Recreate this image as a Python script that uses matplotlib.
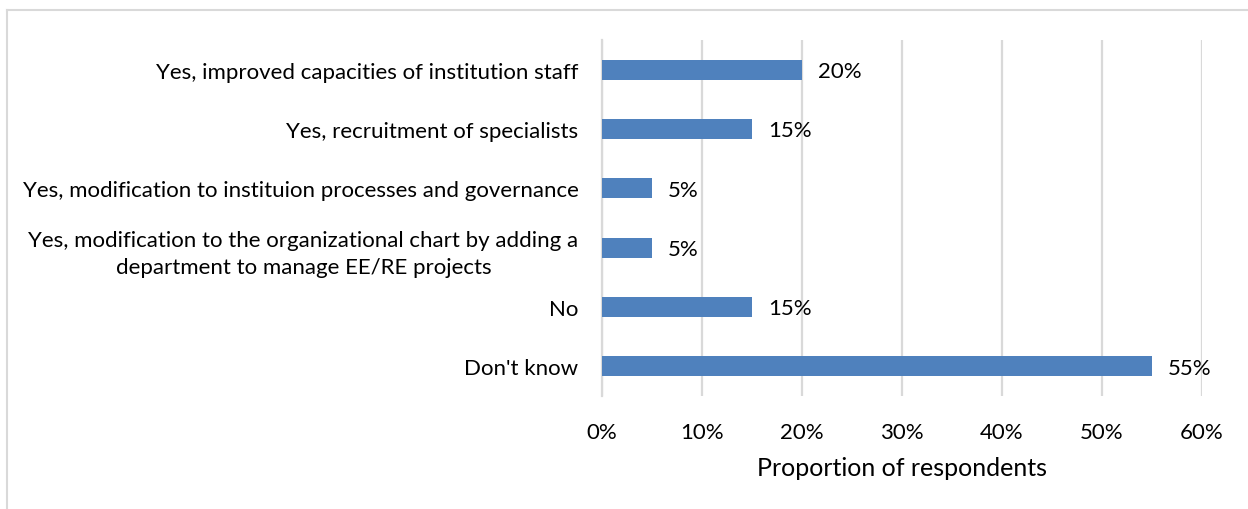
import matplotlib
matplotlib.use("Agg")
import matplotlib.pyplot as plt
from matplotlib.lines import Line2D
from matplotlib.ticker import PercentFormatter

plt.rcParams['font.family'] = ['Lato', 'DejaVu Sans']

# Data
categories = [
    "Yes, improved capacities of institution staff",
    "Yes, recruitment of specialists",
    "Yes, modification to instituion processes and governance",
    "Yes, modification to the organizational chart by adding a\ndepartment to manage EE/RE projects",
    "No",
    "Don't know",
]
shares = [20, 15, 5, 5, 15, 55]
x_ticks = [0, 10, 20, 30, 40, 50, 60]

W, H = 1248, 510
fig = plt.figure(figsize=(W / 100, H / 100), dpi=100)
ax = fig.add_axes([602 / W, 1 - 397 / H, 600 / W, 356 / H])

pos = list(range(len(categories)))
bars = ax.barh(pos, shares, height=0.34, color='#4f81bd', zorder=3)
ax.set_ylim(len(categories) - 0.5, -0.5)
ax.set_xlim(0, 60)
ax.set_xticks(x_ticks)
ax.xaxis.set_major_formatter(PercentFormatter(decimals=0))
ax.set_yticks(pos)
ax.set_yticklabels(categories, ha='right', multialignment='center', linespacing=1.45)

# value labels
for bar, v in zip(bars, shares):
    ax.annotate(f"{v}%", (bar.get_width(), bar.get_y() + bar.get_height() / 2),
                xytext=(11.5, -1), textcoords='offset points',
                ha='left', va='center', fontsize=16, color='#000000')

ax.grid(axis='x', color='#d9d9d9', linewidth=1.6, zorder=0)
for s in ['top', 'right', 'bottom']:
    ax.spines[s].set_visible(False)
ax.spines['left'].set_color('#d9d9d9')
ax.spines['left'].set_linewidth(1.6)
ax.tick_params(axis='both', length=0, labelsize=16, colors='#000000')
ax.tick_params(axis='y', pad=17)
ax.tick_params(axis='x', pad=19)
ax.set_xlabel("Proportion of respondents", fontsize=18, labelpad=10)

# outer chart border
fig.add_artist(Line2D([7 / W, 7 / W], [0, 1 - 11 / H], color='#d9d9d9', linewidth=1.5,
                      transform=fig.transFigure))
fig.add_artist(Line2D([7 / W, 1], [1 - 11 / H, 1 - 11 / H], color='#d9d9d9', linewidth=1.5,
                      transform=fig.transFigure))

fig.savefig("out.png", dpi=100)
